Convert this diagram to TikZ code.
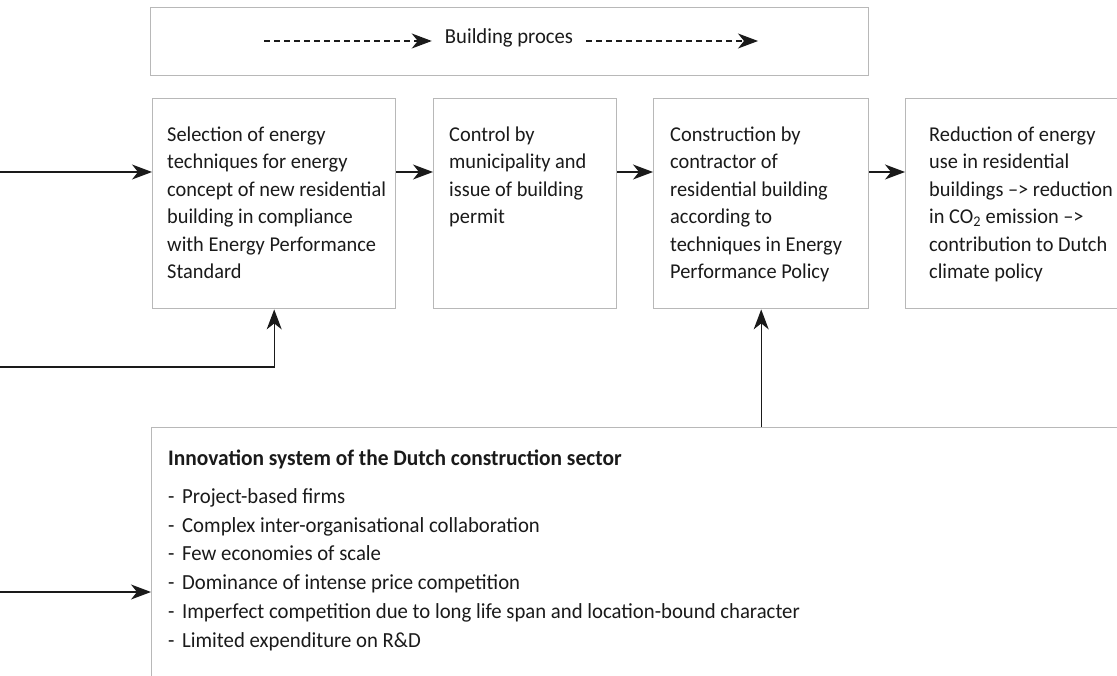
\documentclass[tikz,border=0pt]{standalone}
\usepackage{fontspec}
\setmainfont{Carlito}
\newfontfamily\reffont[FakeStretch=0.965]{Carlito}
\usetikzlibrary{arrows.meta}
\definecolor{boxgray}{HTML}{B8B8B8}
\definecolor{ink}{HTML}{1A1A1A}
\newcommand{\firststrut}{\rule{0pt}{16pt}}
\begin{document}
\begin{tikzpicture}[x=1pt,y=-1pt,
  box/.style={draw=boxgray, line width=1.4pt, inner sep=0pt, anchor=north west},
  txt/.style={anchor=north west, inner sep=0pt, align=left, text=ink,
    font=\reffont\fontsize{21.1}{27.5}\selectfont},
  listtxt/.style={anchor=north west, inner sep=0pt, align=left, text=ink,
    font=\reffont\fontsize{21.5}{28.8}\selectfont},
  arr/.style={draw=ink, line width=1.3pt, -{Stealth[length=20pt,width=15pt,inset=6pt]}},
  darr/.style={draw=ink, line width=1.1pt, dash pattern=on 6pt off 4pt,
    -{Stealth[length=20pt,width=15pt,inset=6pt]}},
]
\useasboundingbox (0,0) rectangle (1117,676);
\clip (0,0) rectangle (1117,676);

% top box
\node[box, minimum width=718pt, minimum height=68pt] (proc) at (150,7) {};
\node[inner xsep=13pt, inner ysep=0pt, text=ink, font=\reffont\fontsize{21.4}{24}\selectfont] (bp) at (509,38) {Building proces};
\coordinate (d1s) at (264,41);
\coordinate (d2e) at (758,41);
\draw[darr] (d1s) -- (d1s -| bp.west);
\draw[darr] (d1s -| bp.east) -- (d2e);

% row boxes
\node[box, minimum width=243pt, minimum height=210pt] (b1) at (152,98) {};
\node[box, minimum width=183pt, minimum height=210pt] (b2) at (433,98) {};
\node[box, minimum width=215pt, minimum height=210pt] (b3) at (653,98) {};
\node[box, minimum width=260pt, minimum height=210pt] (b4) at (905,98) {};

\node[txt] (t1) at ([shift={(15,27)}]b1.north west)
  {\firststrut Selection of energy\\techniques for energy\\concept of new residential\\building in compliance\\with Energy Performance\\Standard};
\node[txt] (t2) at ([shift={(16,27)}]b2.north west)
  {\firststrut Control by\\municipality and\\issue of building\\permit};
\node[txt] (t3) at ([shift={(17,27)}]b3.north west)
  {\firststrut Construction by\\contractor of\\residential building\\according to\\techniques in Energy\\Performance Policy};
\node[txt] (t4) at ([shift={(24,27)}]b4.north west)
  {\firststrut Reduction of energy\\use in residential\\buildings –> reduction\\in CO\textsubscript{2} emission –>\\contribution to Dutch\\climate policy};

% bottom box
\node[box, minimum width=1000pt, minimum height=300pt] (innov) at (151,427) {};
\node[txt, font=\reffont\bfseries\fontsize{22.2}{26.4}\selectfont] (ih) at ([shift={(17,22)}]innov.north west)
  {\firststrut Innovation system of the Dutch construction sector};
\node[listtxt] (il) at ([shift={(17,60)}]innov.north west)
  {\firststrut\makebox[14pt][l]{-}Project-based firms\\
   \makebox[14pt][l]{-}Complex inter-organisational collaboration\\
   \makebox[14pt][l]{-}Few economies of scale\\
   \makebox[14pt][l]{-}Dominance of intense price competition\\
   \makebox[14pt][l]{-}Imperfect competition due to long life span and location-bound character\\
   \makebox[14pt][l]{-}Limited expenditure on R\&D};

% connectors
\coordinate (l1) at (0,172);
\coordinate (l2) at (0,367);
\coordinate (l3) at (0,592);
\draw[arr] (l1) -- (l1 -| b1.west);
\draw[arr] (l2) -| (b1.south);
\draw[arr] (l3) -- (l3 -| innov.west);
\draw[arr] (b1.east |- l1) -- (b2.west |- l1);
\draw[arr] (b2.east |- l1) -- (b3.west |- l1);
\draw[arr] (b3.east |- l1) -- (b4.west |- l1);
\draw[arr] (innov.north -| b3.south) -- (b3.south);
\end{tikzpicture}
\end{document}
